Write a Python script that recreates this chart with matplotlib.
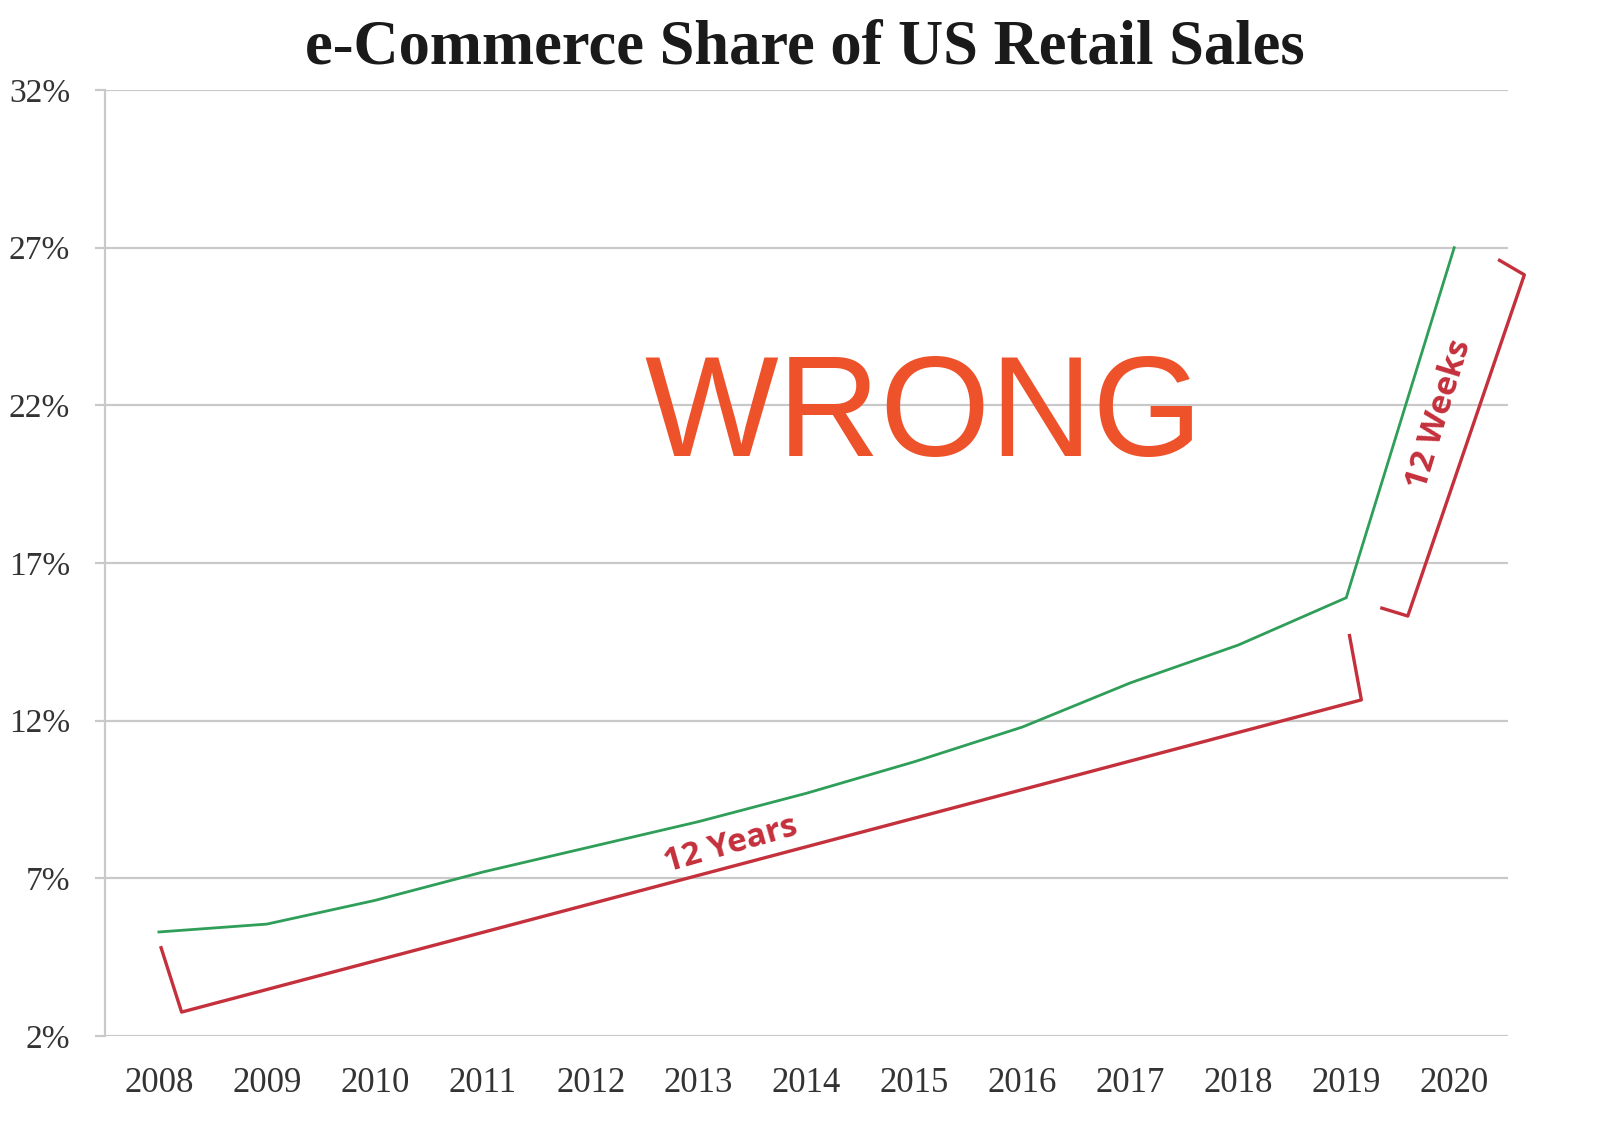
import matplotlib.pyplot as plt

# data
years = [2008, 2009, 2010, 2011, 2012, 2013, 2014, 2015, 2016, 2017, 2018, 2019, 2020]
share = [5.3, 5.55, 6.3, 7.2, 8.0, 8.8, 9.7, 10.7, 11.8, 13.2, 14.4, 15.9, 27.0]
y_ticks = [2, 7, 12, 17, 22, 27, 32]

# hand drawn brackets (data coords)
years_bracket_x = [2008.02, 2008.21, 2019.14, 2019.03]
years_bracket_y = [4.8, 2.76, 12.66, 14.7]
weeks_bracket_x = [2019.33, 2019.57, 2020.65, 2020.42]
weeks_bracket_y = [15.57, 15.32, 26.14, 26.6]

grid_col = '#c9c9c9'
red = '#c4303c'
green = '#2e9e58'

fig = plt.figure(figsize=(16, 11.37), dpi=100)
ax = fig.add_axes([0.0656, 0.0888, 0.877, 0.832])

ax.plot(years, share, color=green, lw=2.0, solid_joinstyle='miter')

ax.plot(years_bracket_x, years_bracket_y, color=red, lw=2.4, clip_on=False)
ax.plot(weeks_bracket_x, weeks_bracket_y, color=red, lw=2.4, clip_on=False)

ax.text(2013.3, 8.05, '12 Years', color=red, fontsize=24, fontweight='bold',
        family='Open Sans', rotation=16, ha='center', va='center')
ax.text(2019.86, 21.7, '12 Weeks', color=red, fontsize=24, fontweight='bold',
        family='Open Sans', rotation=73, ha='center', va='center', clip_on=False)

ax.text(2015.08, 20.4, 'WRONG', color='#ee522a', fontsize=102,
        family='Liberation Sans', ha='center', va='baseline')

ax.set_xlim(2007.5, 2020.5)
ax.set_ylim(2, 32)
ax.set_xticks(years)
ax.set_yticks(y_ticks)
ax.set_yticklabels([f'{v}%' for v in y_ticks])
ax.yaxis.grid(True, color=grid_col, lw=1.6)
ax.set_axisbelow(True)

for s in ['top', 'right', 'bottom']:
    ax.spines[s].set_visible(False)
ax.spines['left'].set_color(grid_col)
ax.spines['left'].set_linewidth(1.6)

ax.tick_params(axis='y', length=7, width=1.6, color=grid_col, pad=18,
               labelsize=24, labelcolor='#333333')
ax.tick_params(axis='x', length=0, pad=22, labelsize=25, labelcolor='#333333')
for lab in ax.get_xticklabels() + ax.get_yticklabels():
    lab.set_family('Liberation Serif')

fig.text(0.503, 0.957, 'e-Commerce Share of US Retail Sales', ha='center', va='center',
         fontsize=45, fontweight='bold', family='Liberation Serif', color='#1a1a1a')

fig.savefig('out.png', dpi=100, facecolor='white')
